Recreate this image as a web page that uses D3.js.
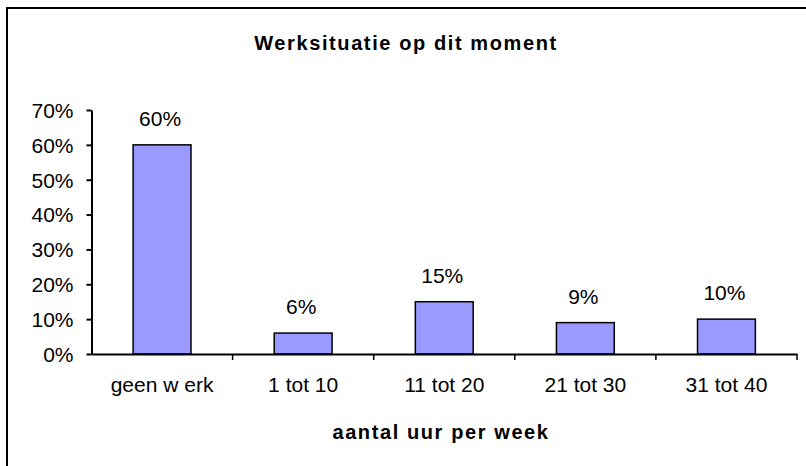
<!DOCTYPE html>
<html><head><meta charset="utf-8">
<script src="https://cdn.jsdelivr.net/npm/d3@7"></script>
<style>
html,body{margin:0;padding:0;background:#fff;}
svg{display:block;font-family:"Liberation Sans",Arial,sans-serif;}
</style></head>
<body>
<svg id="c" width="806" height="466"></svg>
<script>
const categories = ["geen w erk", "1 tot 10", "11 tot 20", "21 tot 30", "31 tot 40"];
const values = [0.60, 0.06, 0.15, 0.09, 0.10];
const valueLabels = ["60%", "6%", "15%", "9%", "10%"];
const yTicks = [0, 0.1, 0.2, 0.3, 0.4, 0.5, 0.6, 0.7];
const title = "Werksituatie op dit moment";
const xTitle = "aantal uur per week";

const svg = d3.select("#c");
// outer border (extends beyond the visible area right/bottom)
svg.append("rect").attr("x", 7).attr("y", 8).attr("width", 820).attr("height", 480)
  .attr("fill", "none").attr("stroke", "#000").attr("stroke-width", 2);

const x = d3.scaleBand().domain(categories).range([91.5, 797]).padding(0);
const y = d3.scaleLinear().domain([0, 0.7]).range([354, 110]);
const barW = x.bandwidth() * 0.41;

svg.append("text").attr("x", 406).attr("y", 50).attr("text-anchor", "middle")
  .attr("font-weight", "bold").attr("font-size", 20).attr("letter-spacing", 1.6).text(title);

// bars
svg.append("g").selectAll("rect").data(values).join("rect")
  .attr("x", (d, i) => x(categories[i]) + x.bandwidth() / 2 - barW / 2)
  .attr("y", d => y(d))
  .attr("width", barW)
  .attr("height", d => y(0) - y(d))
  .attr("fill", "#9999FF").attr("stroke", "#000").attr("stroke-width", 1.5);

// value labels
svg.append("g").selectAll("text").data(values).join("text")
  .attr("x", (d, i) => x(categories[i]) + x.bandwidth() / 2 - 2)
  .attr("y", d => y(d) - 19)
  .attr("text-anchor", "middle").attr("font-size", 21)
  .text((d, i) => valueLabels[i]);

// y axis
const yAxis = d3.axisLeft(y).tickValues(yTicks).tickFormat(d3.format(".0%")).tickSize(5).tickSizeOuter(0);
const gy = svg.append("g").attr("transform", "translate(91.5,0)").call(yAxis);
gy.select(".domain").attr("stroke", "#000").attr("stroke-width", 2);
gy.selectAll(".tick line").attr("stroke", "#000").attr("stroke-width", 2);
gy.selectAll(".tick text").attr("font-size", 21).attr("font-family", "Liberation Sans, Arial, sans-serif")
  .attr("fill", "#000").attr("x", -18).attr("dy", "0.35em");

// x axis
const xAxis = d3.axisBottom(x).tickSize(0).tickSizeOuter(0);
const gx = svg.append("g").attr("transform", `translate(0,${y(0)})`).call(xAxis);
gx.select(".domain").attr("stroke", "#000").attr("stroke-width", 2);
gx.selectAll(".tick text").attr("font-size", 21).attr("font-family", "Liberation Sans, Arial, sans-serif")
  .attr("fill", "#000").attr("y", 38).attr("dy", 0);
// category separator ticks
const bounds = categories.map(c => x(c)).concat([x.range()[1]]);
gx.append("g").selectAll("line").data(bounds.slice(1)).join("line")
  .attr("x1", d => d).attr("x2", d => d).attr("y1", 0).attr("y2", 6)
  .attr("stroke", "#000").attr("stroke-width", 1.5);

svg.append("text").attr("x", 441).attr("y", 439).attr("text-anchor", "middle")
  .attr("font-weight", "bold").attr("font-size", 20).attr("letter-spacing", 1.6).text(xTitle);
</script>
</body></html>
